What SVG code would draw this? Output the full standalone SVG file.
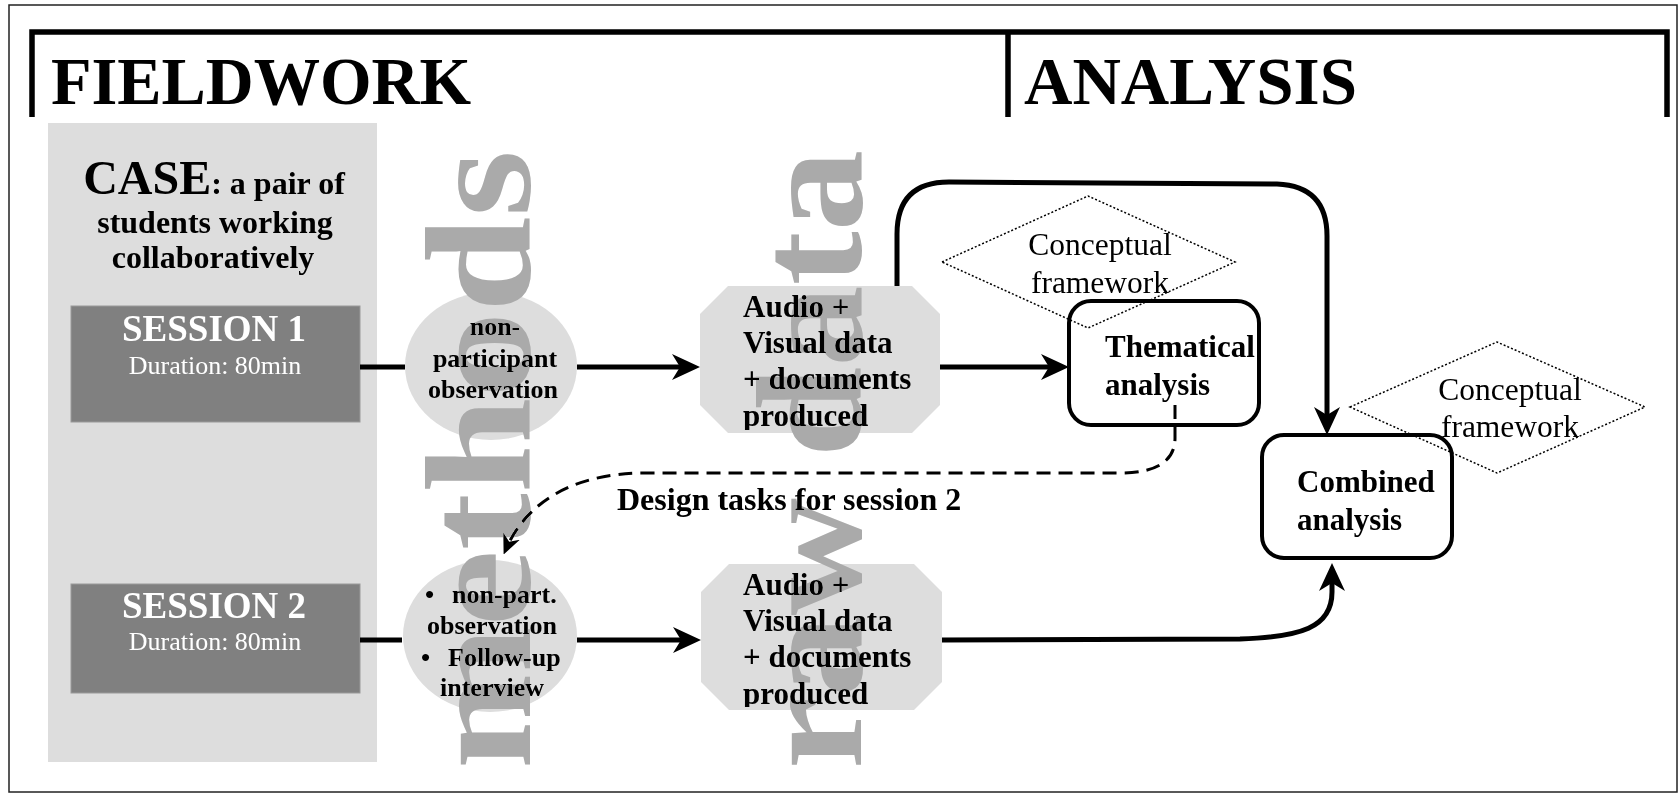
<svg xmlns="http://www.w3.org/2000/svg" width="1679" height="794" viewBox="0 0 1679 794">
<style>
.tb{font-family:"Liberation Serif","Times New Roman",serif;font-weight:bold;fill:#000}
.tr{font-family:"Liberation Serif","Times New Roman",serif;fill:#000}
.wt{fill:#fff}
.conn{fill:none;stroke:#000;stroke-width:5}
.big{font-family:"Liberation Serif","Times New Roman",serif;font-weight:bold;font-size:150px;fill:#aaaaaa;mix-blend-mode:darken}
.dia{fill:none;stroke:#000;stroke-width:1.5;stroke-dasharray:2 2}
.abox{fill:none;stroke:#000;stroke-width:4}
.lg{fill:#dddddd}
</style>
<defs>
<marker id="arr" viewBox="0 0 28 28" refX="20" refY="14" markerWidth="28" markerHeight="28" markerUnits="userSpaceOnUse" orient="auto"><path d="M0,1 L28,14 L0,27 L8,14 Z" fill="#000"/></marker>
<marker id="arrs" viewBox="0 0 20 20" refX="14" refY="10" markerWidth="20" markerHeight="20" markerUnits="userSpaceOnUse" orient="auto"><path d="M0,1 L20,10 L0,19 L6,10 Z" fill="#000"/></marker>
<clipPath id="oc1"><rect x="700" y="286" width="240" height="144"/></clipPath>
<clipPath id="oc2"><rect x="701" y="564" width="241" height="143"/></clipPath>
</defs>
<rect x="0" y="0" width="1679" height="794" fill="#fff"/>
<rect x="9" y="5" width="1668" height="787" fill="none" stroke="#222" stroke-width="1.5"/>

<g id="headers">
<path d="M32,117 V32 H1667 V117" fill="none" stroke="#000" stroke-width="5.5"/>
<path d="M1008,32 V117" fill="none" stroke="#000" stroke-width="5.5"/>
<text class="tb" x="51" y="104" font-size="68" textLength="420" lengthAdjust="spacingAndGlyphs">FIELDWORK</text>
<text class="tb" x="1024" y="104" font-size="68" textLength="333" lengthAdjust="spacingAndGlyphs">ANALYSIS</text>
</g>

<g id="case">
<rect x="48" y="123" width="329" height="639" fill="#dddddd"/>
<text class="tb" x="214" y="194" text-anchor="middle"><tspan font-size="48">CASE</tspan><tspan font-size="32">: a pair of</tspan></text>
<text class="tb" x="215" y="233" font-size="32" text-anchor="middle">students working</text>
<text class="tb" x="213" y="268" font-size="32" text-anchor="middle">collaboratively</text>
</g>

<g id="session1">
<rect x="71" y="306" width="289" height="116" fill="#808080" stroke="#9a9a9a" stroke-width="1"/>
<text class="tb wt" x="214" y="341" font-size="37" text-anchor="middle">SESSION 1</text>
<text class="tr wt" x="215" y="374" font-size="26" text-anchor="middle">Duration: 80min</text>
</g>

<g id="session2">
<rect x="71" y="584" width="289" height="109" fill="#808080" stroke="#9a9a9a" stroke-width="1"/>
<text class="tb wt" x="214" y="618" font-size="37" text-anchor="middle">SESSION 2</text>
<text class="tr wt" x="215" y="650" font-size="26" text-anchor="middle">Duration: 80min</text>
</g>

<g id="method1">
<ellipse cx="491" cy="366" rx="86" ry="74" class="lg"/>
<text class="tb" font-size="26" text-anchor="middle"><tspan x="495" y="335">non-</tspan><tspan x="495" y="367">participant</tspan><tspan x="493" y="398">observation</tspan></text>
</g>

<g id="method2">
<ellipse cx="490" cy="636" rx="87" ry="76" class="lg"/>
<text class="tb" font-size="26"><tspan x="425" y="603">•</tspan><tspan x="452" y="603">non-part.</tspan></text>
<text class="tb" x="492" y="634" font-size="26" text-anchor="middle">observation</text>
<text class="tb" font-size="26"><tspan x="421" y="666">•</tspan><tspan x="448" y="666">Follow-up</tspan></text>
<text class="tb" x="492" y="696" font-size="26" text-anchor="middle">interview</text>
</g>

<g id="data1">
<path d="M728,286 H912 L940,314 V405 L912,433 H728 L700,405 V314 Z" class="lg"/>
<text class="tb" font-size="31" clip-path="url(#oc1)"><tspan x="743" y="317">Audio +</tspan><tspan x="743" y="353">Visual data</tspan><tspan x="743" y="389">+ documents</tspan><tspan x="743" y="426">produced</tspan></text>
</g>

<g id="data2">
<path d="M729,564 H914 L942,592 V682 L914,710 H729 L701,682 V592 Z" class="lg"/>
<text class="tb" font-size="31" clip-path="url(#oc2)"><tspan x="743" y="595">Audio +</tspan><tspan x="743" y="631">Visual data</tspan><tspan x="743" y="667">+ documents</tspan><tspan x="743" y="704">produced</tspan></text>
</g>

<g id="thematic">
<rect x="1069" y="301" width="190" height="124" rx="22" class="abox"/>
<text class="tb" font-size="31"><tspan x="1105" y="357">Thematical</tspan><tspan x="1105" y="395">analysis</tspan></text>
</g>

<g id="combined">
<rect x="1262" y="435" width="190" height="123" rx="22" class="abox"/>
<text class="tb" font-size="31"><tspan x="1297" y="492">Combined</tspan><tspan x="1297" y="530">analysis</tspan></text>
</g>

<g id="framework1">
<path d="M942,262 L1088,196 L1235,262 L1088,328 Z" class="dia"/>
<text class="tr" font-size="31.5" text-anchor="middle"><tspan x="1100" y="255">Conceptual</tspan><tspan x="1100" y="293">framework</tspan></text>
</g>

<g id="framework2">
<path d="M1350,407 L1497,342 L1645,407 L1497,473 Z" class="dia"/>
<text class="tr" font-size="31.5" text-anchor="middle"><tspan x="1510" y="400">Conceptual</tspan><tspan x="1510" y="437">framework</tspan></text>
</g>

<g id="connectors">
<path class="conn" d="M360,367 H405"/>
<path class="conn" d="M577,367 H692" marker-end="url(#arr)"/>
<path class="conn" d="M940,367 H1061" marker-end="url(#arr)"/>
<path class="conn" d="M360,640 H402"/>
<path class="conn" d="M577,640 H693" marker-end="url(#arr)"/>
<path class="conn" d="M897,286 V234 Q897,182 949,182 L1277,184 Q1327,186 1327,236 V427" marker-end="url(#arr)"/>
<path class="conn" d="M942,640 L1240,639 C1300,637 1332,628 1332,592 V571" stroke-width="6" marker-end="url(#arr)"/>
<path d="M1175,405 V438 C1175,462 1155,473 1120,473 H645 C570,473 525,505 506,549" fill="none" stroke="#000" stroke-width="3" stroke-dasharray="14 8" marker-end="url(#arrs)"/>
</g>

<g id="watermarks">
<text class="big" transform="translate(530,769) rotate(-90)" textLength="619" lengthAdjust="spacingAndGlyphs">methods</text>
<text class="big" transform="translate(861,769) rotate(-90)" textLength="619" lengthAdjust="spacingAndGlyphs">raw data</text>
</g>

<g id="labels">
<text class="tb" x="617" y="510" font-size="32">Design tasks for session 2</text>
</g>
</svg>
